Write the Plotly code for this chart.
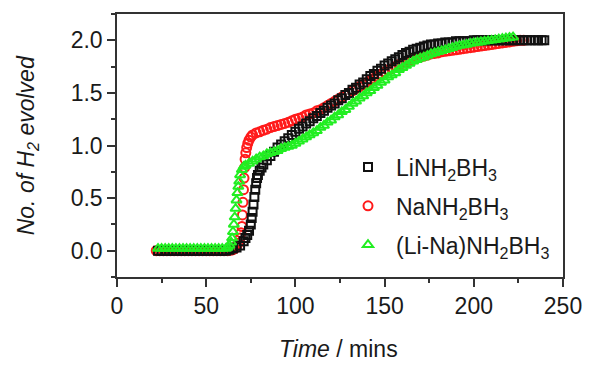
import plotly.graph_objects as go

# ---------------- data ----------------
li_time = [23, 25, 27, 29, 31, 33, 35, 37, 39, 41, 43, 45, 47, 49, 51, 53, 55, 57, 59, 61,
           63, 65, 67, 69, 71, 72, 73, 74, 75, 75.5, 76, 76.5, 77, 77.5, 78, 78.5, 79, 80, 81, 82,
           84, 86, 88, 90, 92, 94, 96, 98, 100, 102, 104, 106, 108, 110, 112, 114, 116, 118, 120,
           122, 124, 126, 128, 130, 132, 134, 136, 138, 140, 142, 144, 146, 148, 150, 152, 154,
           156, 158, 160, 162, 164, 166, 168, 170, 172, 174, 176, 178, 180, 182, 184, 186, 188,
           190, 192, 194, 196, 198, 200, 202, 204, 206, 208, 210, 212, 214, 216, 218, 220, 222,
           224, 226, 228, 230, 232, 234, 236, 238, 239.5]
li_h2 = [0.00, 0.00, 0.00, 0.00, 0.00, 0.00, 0.00, 0.00, 0.00, 0.00, 0.00, 0.00, 0.00, 0.00,
         0.00, 0.00, 0.00, 0.00, 0.00, 0.00,
         0.01, 0.02, 0.03, 0.05, 0.09, 0.12, 0.15, 0.19, 0.25, 0.31, 0.37, 0.44, 0.51, 0.58, 0.64,
         0.69, 0.72, 0.76, 0.79, 0.82,
         0.86, 0.90, 0.94, 0.98, 1.01, 1.04, 1.07, 1.10, 1.13, 1.16, 1.18, 1.21, 1.23, 1.26, 1.28,
         1.31, 1.33, 1.36, 1.38, 1.40, 1.43, 1.45, 1.48, 1.50, 1.53, 1.55, 1.58, 1.60, 1.63, 1.66,
         1.68, 1.71, 1.73, 1.76, 1.78, 1.80, 1.82, 1.84, 1.86, 1.88, 1.89, 1.91, 1.92, 1.93, 1.94,
         1.95, 1.96, 1.96, 1.97, 1.97, 1.98, 1.98, 1.98, 1.99, 1.99, 1.99, 1.99, 1.99, 2.00, 2.00,
         2.00, 2.00, 2.00, 2.00, 2.00, 2.00, 2.00, 2.00, 2.00, 2.00, 2.00, 2.00, 2.00, 2.00, 2.00,
         2.00, 2.00, 2.00, 2.00]

na_time = [22, 24, 26, 28, 30, 32, 34, 36, 38, 40, 42, 44, 46, 48, 50, 52, 54, 56, 58, 60, 62, 64,
           65, 66, 67, 68, 69, 69.5, 70, 70.3, 70.6, 70.9, 71.2, 71.5, 71.8, 72.2, 72.7, 73.3, 74,
           75, 76, 78, 80, 82, 84, 86, 88, 90, 92, 94, 96, 98, 100, 102, 104, 106, 108, 110, 112,
           114, 116, 118, 120, 122, 124, 126, 128, 130, 132, 134, 136, 138, 140, 142, 144, 146,
           148, 150, 152, 154, 156, 158, 160, 162, 164, 166, 168, 170, 172, 174, 176, 178, 180,
           182, 184, 186, 188, 190, 192, 194, 196, 198, 200, 202, 204, 206, 208, 210, 212, 214,
           216, 218, 220, 222, 224, 226, 228]
na_h2 = [0.00, 0.00, 0.00, 0.00, 0.00, 0.00, 0.00, 0.00, 0.00, 0.00, 0.00, 0.00, 0.00, 0.00,
         0.00, 0.00, 0.00, 0.00, 0.00, 0.00, 0.00, 0.005,
         0.01, 0.02, 0.04, 0.07, 0.12, 0.17, 0.23, 0.34, 0.46, 0.58, 0.69, 0.79, 0.87, 0.93, 0.98,
         1.02, 1.05, 1.08, 1.10, 1.12, 1.13, 1.145, 1.155, 1.17, 1.18, 1.19, 1.20, 1.21, 1.22,
         1.235, 1.25, 1.26, 1.27, 1.29, 1.30, 1.31, 1.33, 1.34, 1.36, 1.38, 1.40, 1.42, 1.44,
         1.46, 1.48, 1.50, 1.52, 1.54, 1.56, 1.58, 1.60, 1.62, 1.64, 1.66, 1.68, 1.70, 1.72,
         1.73, 1.75, 1.77, 1.78, 1.79, 1.81, 1.82, 1.83, 1.84, 1.85, 1.86, 1.87, 1.875, 1.88,
         1.89, 1.895, 1.90, 1.905, 1.91, 1.915, 1.92, 1.925, 1.93, 1.935, 1.94, 1.945, 1.95,
         1.955, 1.96, 1.965, 1.97, 1.975, 1.98, 1.985, 1.99, 1.995, 2.00, 2.00]

lina_time = [23, 25, 27, 29, 31, 33, 35, 37, 39, 41, 43, 45, 47, 49, 51, 53, 55, 57, 59, 61,
             62, 63, 64, 64.5, 65, 65.5, 66, 66.5, 67, 67.5, 68, 68.5, 69, 70, 71, 72, 74, 76, 78,
             80, 82, 84, 86, 88, 90, 92, 94, 96, 98, 100, 102, 104, 106, 108, 110, 112, 114, 116,
             118, 120, 122, 124, 126, 128, 130, 132, 134, 136, 138, 140, 142, 144, 146, 148, 150,
             152, 154, 156, 158, 160, 162, 164, 166, 168, 170, 172, 174, 176, 178, 180, 182, 184,
             186, 188, 190, 192, 194, 196, 198, 200, 202, 204, 206, 208, 210, 212, 214, 216, 218,
             220, 222]
lina_h2 = [0.02, 0.02, 0.02, 0.02, 0.02, 0.02, 0.02, 0.02, 0.02, 0.02, 0.02, 0.02, 0.02, 0.02,
           0.02, 0.02, 0.02, 0.02, 0.02, 0.02,
           0.03, 0.05, 0.08, 0.12, 0.18, 0.25, 0.32, 0.40, 0.48, 0.55, 0.61, 0.66, 0.72, 0.77,
           0.80, 0.81, 0.83, 0.85, 0.87, 0.89, 0.90, 0.92, 0.93, 0.94, 0.95, 0.97, 0.98, 0.99,
           1.00, 1.02, 1.04, 1.06, 1.08, 1.10, 1.12, 1.14, 1.17, 1.19, 1.22, 1.24, 1.27, 1.29,
           1.32, 1.34, 1.37, 1.40, 1.42, 1.45, 1.47, 1.50, 1.52, 1.55, 1.57, 1.60, 1.62, 1.65,
           1.67, 1.69, 1.72, 1.74, 1.76, 1.78, 1.80, 1.815, 1.83, 1.84, 1.855, 1.87, 1.88, 1.89,
           1.90, 1.91, 1.92, 1.93, 1.94, 1.95, 1.955, 1.96, 1.97, 1.975, 1.98, 1.985, 1.99, 1.995,
           2.00, 2.005, 2.01, 2.015, 2.02, 2.025, 2.03]

series_names = ["LiNH<sub>2</sub>BH<sub>3</sub>", "NaNH<sub>2</sub>BH<sub>3</sub>",
                "(Li-Na)NH<sub>2</sub>BH<sub>3</sub>"]
x_ticks = [0, 50, 100, 150, 200, 250]
y_ticks = [0.0, 0.5, 1.0, 1.5, 2.0]

FONT = "Arial, 'Liberation Sans', sans-serif"
TXT = "#1a1a1a"

fig = go.Figure()
# draw order: red, black, green (green on top); legend order via legendrank
fig.add_trace(go.Scatter(x=na_time, y=na_h2, mode="markers", name=series_names[1],
                         legendrank=2, legendgroup="na",
                         marker=dict(symbol="circle-open", size=9, color="#ff1a1a",
                                     line=dict(width=2))))
fig.add_trace(go.Scatter(x=li_time, y=li_h2, mode="markers", name=series_names[0],
                         legendrank=1, legendgroup="li",
                         marker=dict(symbol="square-open", size=8, color="#111111",
                                     line=dict(width=2))))
fig.add_trace(go.Scatter(x=lina_time, y=lina_h2, mode="markers", name=series_names[2],
                         legendrank=3, legendgroup="lina",
                         marker=dict(symbol="triangle-up-open", size=9, color="#22ee22",
                                     line=dict(width=2))))

axis_common = dict(showline=True, linecolor="#333333", linewidth=1.5, mirror=True,
                   ticks="outside", tickcolor="#333333", tickwidth=1.5, ticklen=8,
                   showgrid=False, zeroline=False,
                   tickfont=dict(family=FONT, size=23, color=TXT))

fig.update_xaxes(range=[0, 250], tickvals=x_ticks, ticktext=[str(v) for v in x_ticks],
                 minor=dict(dtick=25, tick0=0, ticks="outside", ticklen=4, tickwidth=1.5,
                            tickcolor="#333333", showgrid=False),
                 **axis_common)
fig.update_yaxes(range=[-0.25, 2.25], tickvals=y_ticks, ticktext=[f"{v:.1f}" for v in y_ticks],
                 minor=dict(dtick=0.25, tick0=0, ticks="outside", ticklen=4, tickwidth=1.5,
                            tickcolor="#333333", showgrid=False),
                 **axis_common)

fig.update_layout(
    width=594, height=365,
    margin=dict(l=117, r=22, t=13, b=88),
    paper_bgcolor="white", plot_bgcolor="white",
    font=dict(family=FONT, color=TXT),
    showlegend=True,
    legend=dict(x=0.50, y=0.50, xanchor="left", yanchor="top",
                bgcolor="rgba(0,0,0,0)", borderwidth=0,
                font=dict(family=FONT, size=23, color=TXT),
                itemsizing="trace", tracegroupgap=6, itemwidth=46),
    annotations=[
        dict(text="<i>No. of H<sub>2</sub> evolved</i>", xref="paper", yref="paper",
             x=-0.2, y=0.5, xanchor="center", yanchor="middle", textangle=-90,
             showarrow=False, font=dict(family=FONT, size=23, color=TXT)),
        dict(text="<i>Time</i> / mins", xref="paper", yref="paper",
             x=0.497, y=-0.275, xanchor="center", yanchor="middle",
             showarrow=False, font=dict(family=FONT, size=23, color=TXT)),
    ],
)

fig.write_html("out.html", config={"displayModeBar": False},
               post_script="document.body.style.margin='0';document.body.style.padding='0';")
